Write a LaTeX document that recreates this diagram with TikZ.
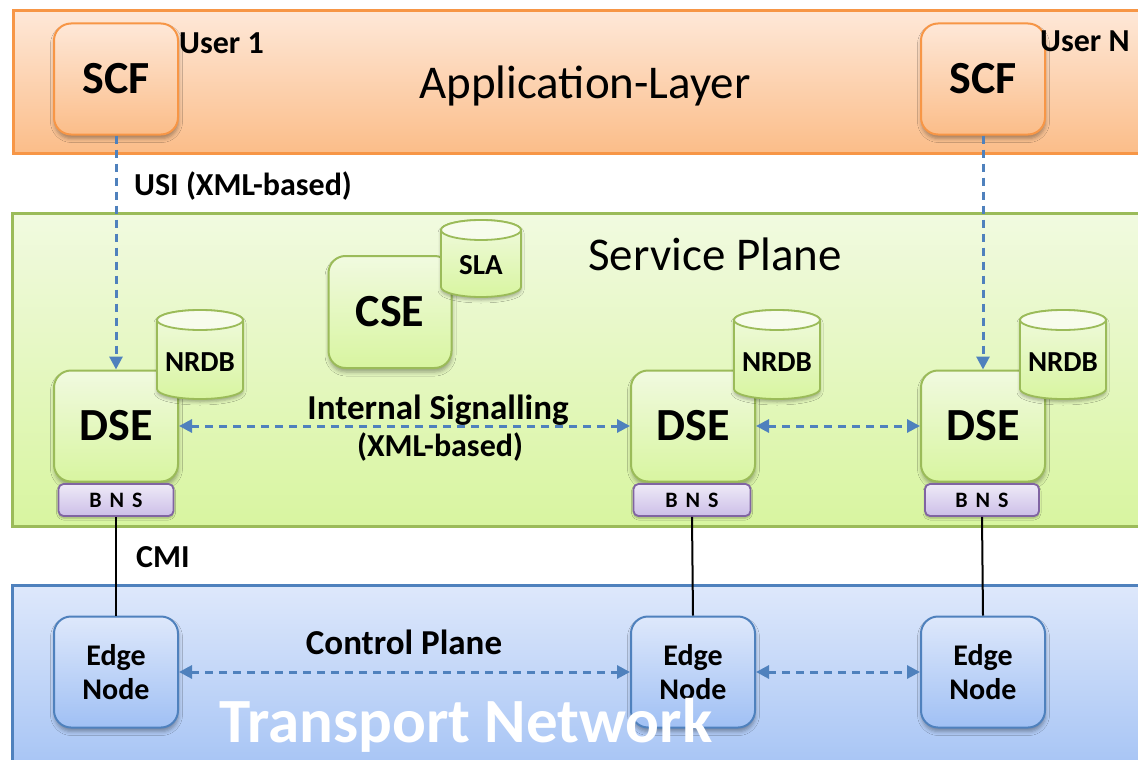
\documentclass[tikz,border=0pt]{standalone}
\usepackage{fontspec}
\setmainfont{Carlito}
\usetikzlibrary{arrows.meta,shadows.blur}

\definecolor{orgline}{HTML}{F79646}
\definecolor{orgtop}{HTML}{FEE8D8}
\definecolor{orgbot}{HTML}{FBBD89}
\definecolor{grnline}{HTML}{9BBB59}
\definecolor{grntop}{HTML}{F1FAE0}
\definecolor{grnbot}{HTML}{D8F5A0}
\definecolor{bluline}{HTML}{4F81BD}
\definecolor{blutop}{HTML}{DEE8FB}
\definecolor{blubot}{HTML}{A0C0F4}
\definecolor{purline}{HTML}{8064A2}
\definecolor{purtop}{HTML}{EEEAF7}
\definecolor{purbot}{HTML}{CCBEE8}
\definecolor{sigblue}{HTML}{4F81BD}

% database drum: centre x, top y, bottom y, half width
\newcommand\dbdrum[4]{%
  \draw[grnline, line width=1.8pt, top color=grntop, bottom color=grnbot,
        blur shadow={shadow xshift=0pt, shadow yshift=-3pt, shadow blur radius=3pt, shadow opacity=30}]
    (#1-#4,#2+10) -- (#1-#4,#3-10)
    arc[start angle=180, end angle=360, x radius=#4pt, y radius=10pt]
    -- (#1+#4,#2+10)
    arc[start angle=0, end angle=180, x radius=#4pt, y radius=10pt] -- cycle;
  \draw[grnline, line width=1.8pt, fill=grntop!60!white]
    (#1,#2+10) ellipse[x radius=#4pt, y radius=10pt];
}

\begin{document}
\begin{tikzpicture}[x=1pt, y=-1pt,
  box/.style={rectangle, rounded corners=17pt, minimum width=124pt, minimum height=111pt,
    line width=2pt, font=\bfseries\fontsize{46}{50}\selectfont, inner sep=0pt,
    blur shadow={shadow xshift=0.5pt, shadow yshift=-4pt, shadow blur radius=4pt, shadow opacity=35}},
  scfbox/.style={box, draw=orgline, top color=orgtop, bottom color=orgbot},
  dsebox/.style={box, draw=grnline, top color=grntop, bottom color=grnbot},
  edgebox/.style={box, draw=bluline, top color=blutop, bottom color=blubot,
    font=\bfseries\fontsize{30}{34}\selectfont, align=center},
  bnsbox/.style={rectangle, rounded corners=5pt, minimum height=32pt, line width=1.8pt,
    draw=purline, top color=purtop, bottom color=purbot, inner sep=0pt,
    font=\bfseries\fontsize{22}{24}\selectfont,
    blur shadow={shadow xshift=0pt, shadow yshift=-2pt, shadow blur radius=2pt, shadow opacity=30}},
  dbtxt/.style={font=\bfseries\fontsize{29}{32}\selectfont, inner sep=0pt},
  lbl/.style={font=\bfseries\fontsize{32}{36}\selectfont, inner sep=0pt},
  biglbl/.style={font=\bfseries\fontsize{35}{40}\selectfont, inner sep=0pt},
  planetitle/.style={font=\fontsize{47}{52}\selectfont, inner sep=0pt},
  sigline/.style={draw=sigblue, line width=3pt, dash pattern=on 8pt off 6pt},
  tip/.tip={Triangle[length=13pt, width=13pt]},
  phys/.style={draw=black, line width=2pt}
]
\useasboundingbox (0,0) rectangle (1138,760);
\fill[white] (0,0) rectangle (1138,760);

% layer bands
\draw[line width=3pt, draw=orgline, top color=orgtop, bottom color=orgbot] (13,11) rectangle (1160,153);
\draw[line width=3pt, draw=grnline, top color=grntop, bottom color=grnbot] (12,213) rectangle (1160,526);
\draw[line width=3pt, draw=bluline, top color=blutop, bottom color=blubot] (12,585) rectangle (1160,790);

% plane titles
\node[planetitle] (app) at (585,86) {Application-Layer};
\node[planetitle] (svc) at (715,254) {Service Plane};

% user functions
\node[scfbox] (scf1) at (116,79) {SCF};
\node[scfbox] (scf2) at (983,79) {SCF};
\node[lbl, anchor=west] (user1) at (179,43) {User 1};
\node[lbl, anchor=west] (userN) at (1040,41) {User N};

% service plane entities
\node[dsebox, minimum width=123pt, minimum height=112pt] (cse) at (390,312) {CSE};
\node[dsebox] (dse1) at (116,426) {DSE};
\node[dsebox] (dse2) at (693,426) {DSE};
\node[dsebox] (dse3) at (983,426) {DSE};

\dbdrum{481}{220}{297}{40}
\node[dbtxt] (sla) at (481,265) {SLA};
\dbdrum{200}{310}{399}{43}
\node[dbtxt] (nrdb1) at (200,362) {NRDB};
\dbdrum{777}{310}{399}{43}
\node[dbtxt] (nrdb2) at (777,362) {NRDB};
\dbdrum{1063}{310}{399}{43}
\node[dbtxt] (nrdb3) at (1063,362) {NRDB};

\node[bnsbox, minimum width=115pt] (bns1) at (116,500) {B\hspace{8pt}N\hspace{8pt}S};
\node[bnsbox, minimum width=117pt] (bns2) at (692,500) {B\hspace{8pt}N\hspace{8pt}S};
\node[bnsbox, minimum width=114pt] (bns3) at (982,500) {B\hspace{8pt}N\hspace{8pt}S};

% transport plane
\node[edgebox] (edge1) at (116,672) {Edge\\Node};
\node[edgebox] (edge2) at (693,672) {Edge\\Node};
\node[edgebox] (edge3) at (983,672) {Edge\\Node};

% signalling interfaces
\draw[sigline, -tip] (scf1.south) -- (dse1.north);
\draw[sigline, -tip] (scf2.south) -- (dse3.north);
\draw[sigline, tip-tip] (dse1.east) -- (dse2.west);
\draw[sigline, tip-tip] (dse2.east) -- (dse3.west);
\draw[sigline, tip-tip] (edge1.east) -- (edge2.west);
\draw[sigline, tip-tip] (edge2.east) -- (edge3.west);

% control interfaces
\draw[phys] (bns1.south) -- (edge1.north);
\draw[phys] (bns2.south) -- (edge2.north);
\draw[phys] (bns3.south) -- (edge3.north);

% interface labels
\node[lbl, anchor=west] (usi) at (134,186) {USI (XML-based)};
\node[biglbl] (isig) at (438,410) {Internal Signalling};
\node[lbl] (isigx) at (440,447) {(XML-based)};
\node[lbl, anchor=west] (cmi) at (136,557) {CMI};
\node[biglbl] (ctrl) at (404,642) {Control Plane};

\node[font=\bfseries\fontsize{63}{68}\selectfont, text=white, inner sep=0pt, anchor=base] (tn) at (466,742) {Transport Network};
\end{tikzpicture}
\end{document}
